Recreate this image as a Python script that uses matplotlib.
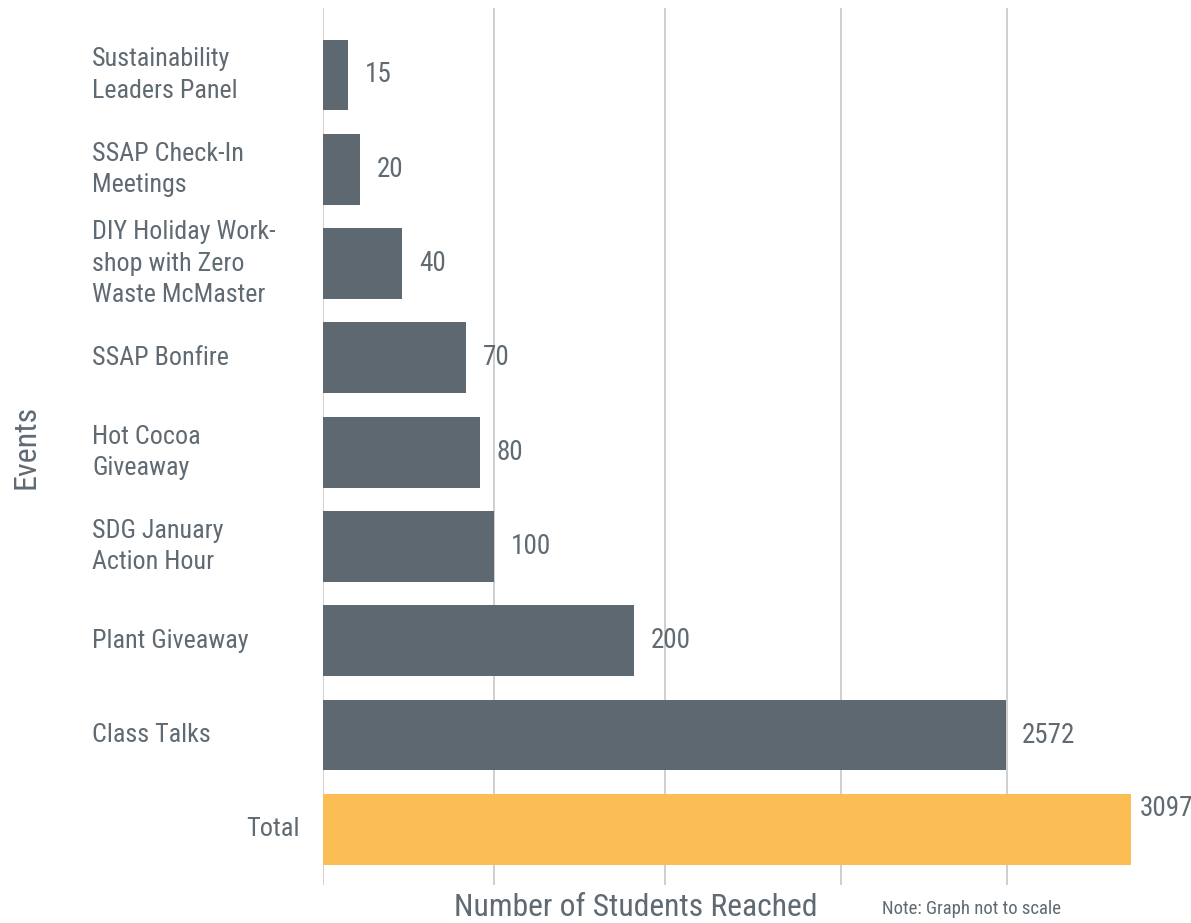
import matplotlib
matplotlib.use("Agg")
import matplotlib.pyplot as plt
from matplotlib import font_manager as fm
from matplotlib.transforms import blended_transform_factory

# ---- data ----
events = ["Sustainability\nLeaders Panel", "SSAP Check-In\nMeetings",
          "DIY Holiday Work-\nshop with Zero\nWaste McMaster", "SSAP Bonfire",
          "Hot Cocoa\nGiveaway", "SDG January\nAction Hour", "Plant Giveaway",
          "Class Talks", "Total"]
students = [15, 20, 40, 70, 80, 100, 200, 2572, 3097]
# graph is explicitly "not to scale": drawn bar lengths (arbitrary units)
drawn_length = [0.146, 0.216, 0.462, 0.836, 0.918, 1.0, 1.819, 3.99, 4.725]

avail = {f.name for f in fm.fontManager.ttflist}
fam = "Roboto"
for cand in ["Roboto Condensed", "Liberation Sans Narrow", "Archivo Narrow",
             "PT Sans Narrow", "Roboto"]:
    if cand in avail:
        fam = cand
        break
plt.rcParams["font.family"] = [fam, "DejaVu Sans"]

TXT = "#5f6a72"
BAR = "#5d6870"
TOT = "#fbbe55"

W, H = 1191, 923
fig = plt.figure(figsize=(W / 100, H / 100), dpi=100)
ax = fig.add_axes([323 / W, (H - 885) / H, 857 / W, 877 / H])

y = list(range(len(events)))
colors = [BAR] * (len(events) - 1) + [TOT]
ax.barh(y, drawn_length, height=0.75, color=colors, zorder=2)

ax.set_xlim(0, 5.01)
ax.set_ylim(8.59, -0.71)
ax.set_xticks([0, 1, 2, 3.03, 4])
ax.xaxis.grid(True, color="#cfcfcf", linewidth=1.4, zorder=0)
ax.tick_params(axis="both", length=0, labelbottom=False, labelleft=False)
for s in ax.spines.values():
    s.set_visible(False)

trans = blended_transform_factory(fig.transFigure, ax.transData)
n = len(events)
for i, (lab, val, ln) in enumerate(zip(events, students, drawn_length)):
    last = (i == n - 1)
    if last:
        ax.text(300 / W, i, lab, transform=trans, ha="right", va="center",
                fontsize=19, color=TXT)
    else:
        ax.text(92 / W, i, lab, transform=trans, ha="left", va="center",
                fontsize=18.7, color=TXT, linespacing=1.38)
    ax.annotate(str(val), (ln, i),
                xytext=(6, 15) if last else (12, 0), textcoords="offset points",
                ha="left", va="center", fontsize=19.5, color=TXT)

fig.text(26 / W, 1 - 447 / H, "Events", rotation=90, ha="center", va="center",
         fontsize=23, color=TXT)
fig.text(636 / W, 1 - 907 / H, "Number of Students Reached", ha="center",
         va="center", fontsize=22.8, color=TXT)
fig.text(972 / W, 1 - 909 / H, "Note: Graph not to scale", ha="center",
         va="center", fontsize=13.5, color=TXT)

fig.savefig("out.png", dpi=100)
